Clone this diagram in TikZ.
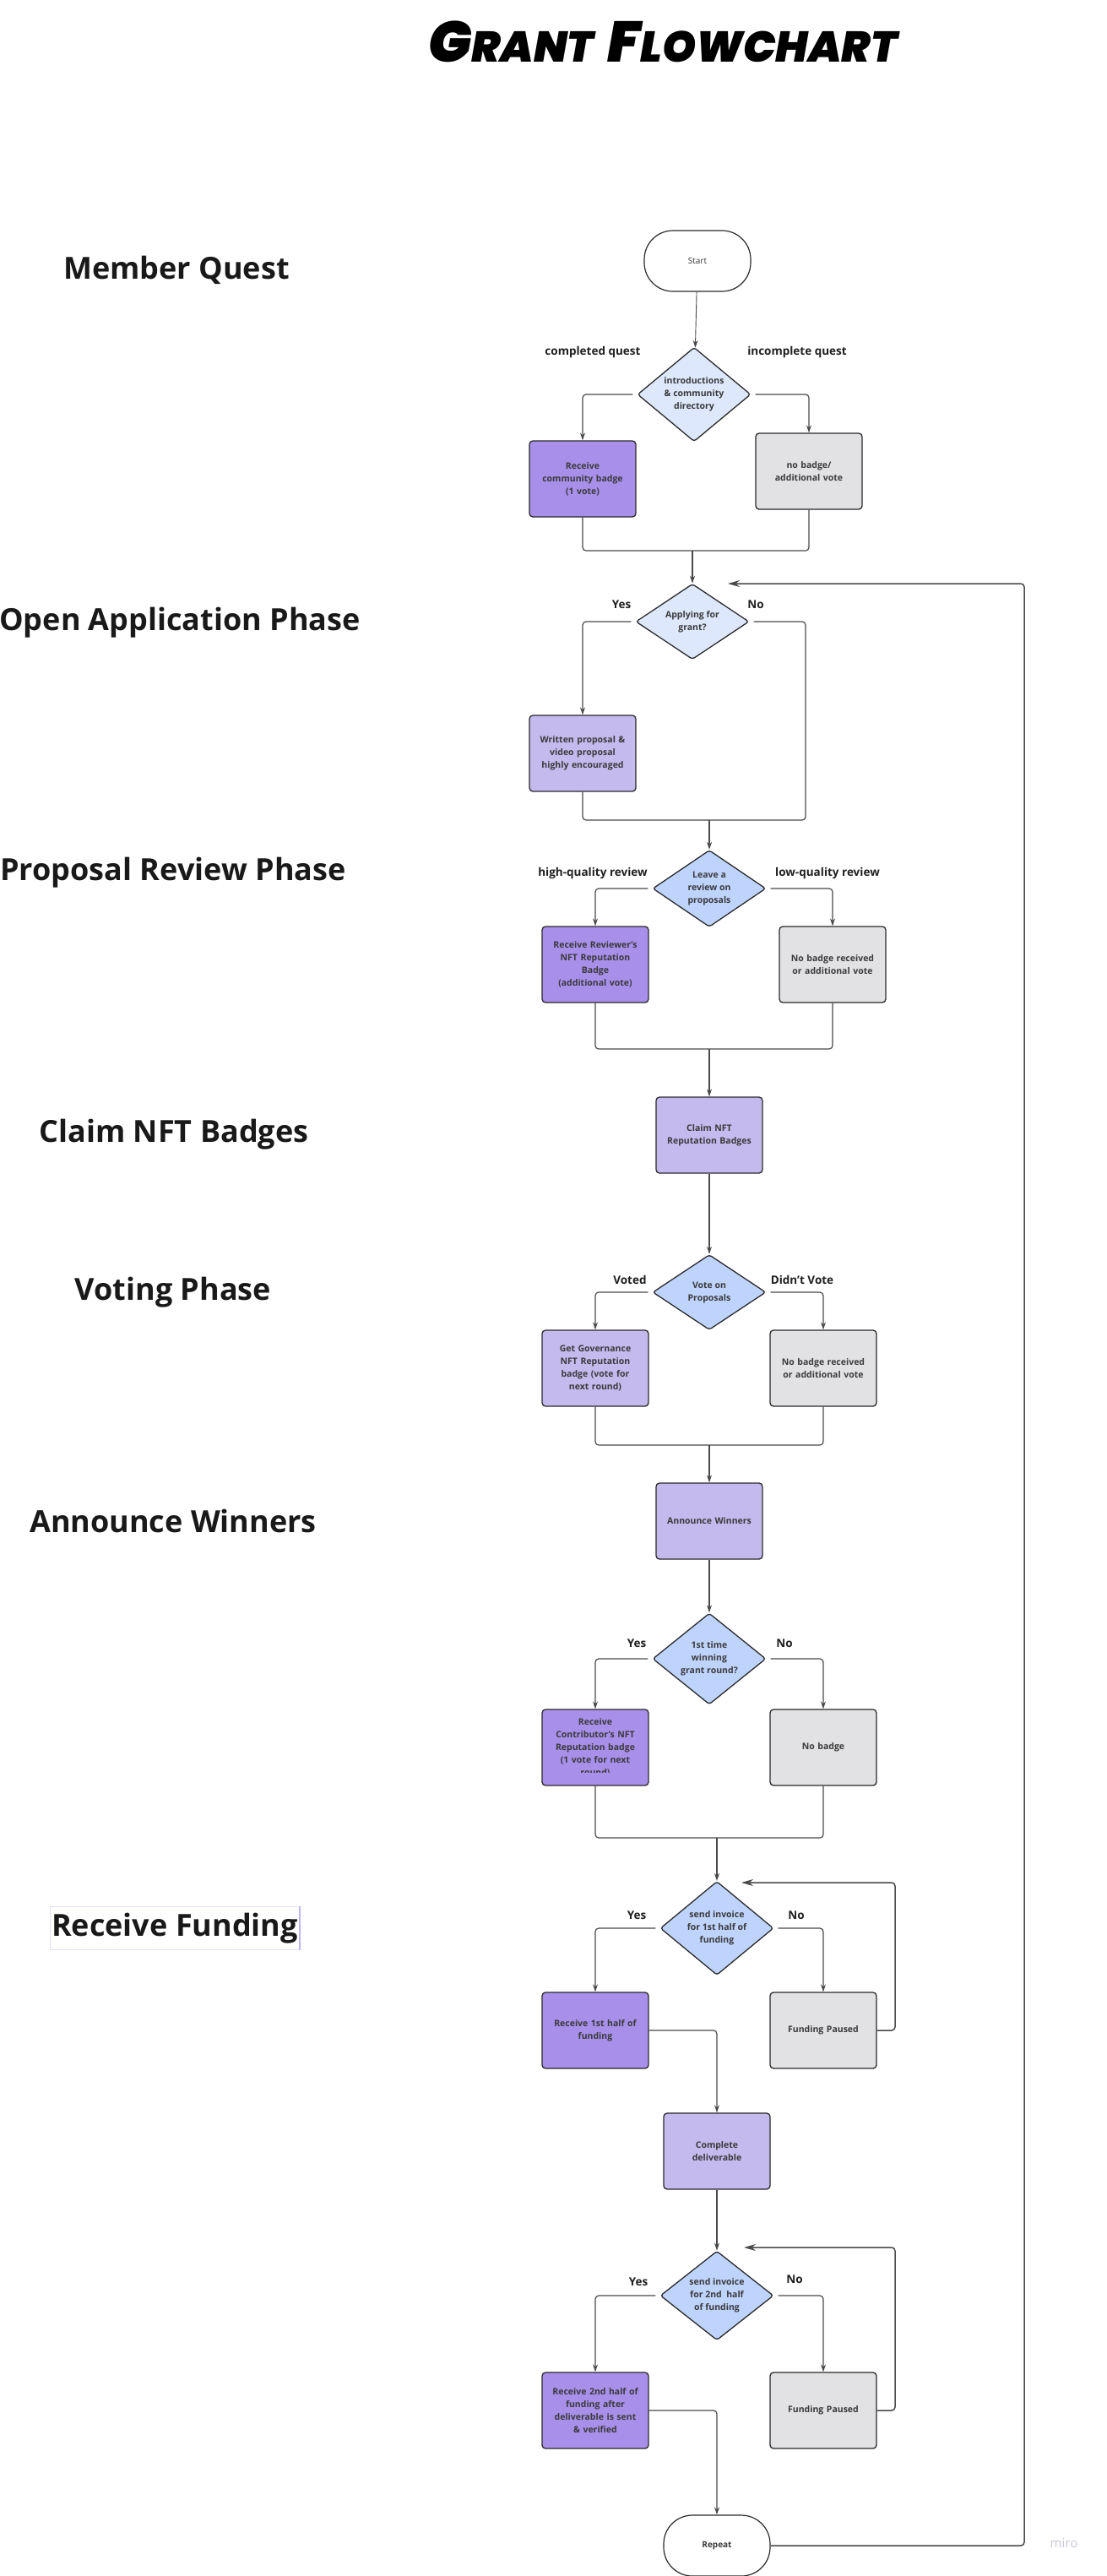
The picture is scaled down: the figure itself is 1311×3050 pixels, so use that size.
\documentclass[tikz,border=0pt]{standalone}
\usepackage{fontspec}
\setmainfont{Open Sans}
\newfontfamily\brushfont{Poppins}[UprightFont=*-Black, ItalicFont=*-BlackItalic]
\usetikzlibrary{shapes.geometric,arrows.meta}
\definecolor{violetdeep}{HTML}{A88FEA}
\definecolor{violetsoft}{HTML}{C5BAEE}
\definecolor{greyfill}{HTML}{E2E2E4}
\definecolor{paleblue}{HTML}{DDE8FC}
\definecolor{queryblue}{HTML}{BFD4FD}
\definecolor{edgeink}{HTML}{2B2B2B}
\definecolor{wire}{HTML}{4A4A4A}
\definecolor{boxink}{HTML}{3A3A3A}
\definecolor{lilac}{HTML}{E4DFFA}
\definecolor{lilacdark}{HTML}{C0B4F6}
\definecolor{markgrey}{HTML}{C9C9DB}
\tikzset{
        card/.style={draw=edgeink, line width=1.3pt, rounded corners=4pt, minimum width=126pt, minimum height=90pt, text width=114pt, align=center, text=boxink, font=\fontsize{10.5}{15}\selectfont\bfseries},
        darkbox/.style={card, fill=violetdeep},
        lightbox/.style={card, fill=violetsoft},
        greybox/.style={card, fill=greyfill},
        query/.style={diamond, draw=edgeink, line width=1.3pt, rounded corners=3pt, minimum width=134pt, minimum height=89pt, inner sep=0pt, align=center, text=boxink, font=\fontsize{10.5}{15}\selectfont\bfseries},
        terminal/.style={draw=edgeink, line width=1.2pt, fill=white, rounded corners=34pt, minimum width=126pt, minimum height=72pt, text=boxink},
        link/.style={draw=wire, line width=1.2pt, rounded corners=4pt},
        arrow/.style={link, -{Stealth[length=9pt,width=6pt]}},
        loopback/.style={link, line width=1.5pt, -{Stealth[length=14pt,width=8pt]}},
        tag/.style={font=\fontsize{13.5}{16}\selectfont\bfseries, text=black!88},
        phase/.style={font=\fontsize{36}{40}\selectfont\bfseries, text=black!90}
}
\begin{document}
\begin{tikzpicture}[x=1pt, y=-1pt]
        \useasboundingbox[fill=white] (0,0) rectangle (1311,3050);
        \node (title) at (785,49) {\brushfont\itshape\fontsize{68}{68}\selectfont G\fontsize{51}{51}\selectfont RANT\hspace{16pt}\fontsize{68}{68}\selectfont F\fontsize{51}{51}\selectfont LOWCHART};
        \node[phase] (ph1) at (209,320) {Member Quest};
        \node[phase] (ph2) at (213,737) {Open Application Phase};
        \node[phase] (ph3) at (205,1033) {Proposal Review Phase};
        \node[phase] (ph4) at (206,1343) {Claim NFT Badges};
        \node[phase] (ph5) at (205,1530) {Voting Phase};
        \node[phase] (ph6) at (205,1801) {Announce Winners};
        \node[phase, draw=lilac, line width=0.8pt, inner sep=1.5pt, minimum height=51pt] (ph7) at (207,2283) {Receive Funding};
        \draw[lilacdark, line width=1.6pt] (ph7.north east) -- (ph7.south east);

        \node[terminal, font=\fontsize{10}{12}\selectfont] (start) at (826,309) {Start};
        \node[query, fill=paleblue] (intro) at (822,467) {introductions\\\& community\\directory};
        \node[darkbox] (badge) at (690,567) {Receive\\community badge\\(1 vote)};
        \node[greybox] (nobadge) at (958,558) {no badge/\\additional vote};
        \node[query, fill=paleblue] (apply) at (820,736) {Applying for\\grant?};
        \node[lightbox] (written) at (690,892) {Written proposal \&\\video proposal\\highly encouraged};
        \node[query, fill=queryblue] (review) at (840,1052) {Leave a\\review on\\proposals};
        \node[darkbox] (reviewer) at (705,1142) {Receive Reviewer's\\NFT Reputation\\Badge\\(additional vote)};
        \node[greybox] (noreview) at (986,1142) {No badge received\\or additional vote};
        \node[lightbox] (claim) at (840,1344) {Claim NFT\\Reputation Badges};
        \node[query, fill=queryblue] (vote) at (840,1530) {Vote on\\Proposals};
        \node[lightbox] (govern) at (705,1620) {Get Governance\\NFT Reputation\\badge (vote for\\next round)};
        \node[greybox] (novote) at (975,1620) {No badge received\\or additional vote};
        \node[lightbox] (announce) at (840,1801) {Announce Winners};
        \node[query, fill=queryblue] (first) at (840,1964) {1st time\\winning\\grant round?};
        \node[darkbox] (contrib) at (705,2069) {};
        \begin{scope}
        \clip ([yshift=16pt]contrib.south west) rectangle (contrib.north east);
        \node[card, draw=none] (contribtext) at (contrib.center) {Receive\\Contributor's NFT\\Reputation badge\\(1 vote for next\\round)};
        \end{scope}
        \node[greybox] (nowin) at (975,2069) {No badge};
        \node[query, fill=queryblue] (invoice1) at (849,2283) {send invoice\\for 1st half of\\funding};
        \node[darkbox] (half1) at (705,2404) {Receive 1st half of\\funding};
        \node[greybox] (pause1) at (975,2404) {Funding Paused};
        \node[lightbox] (deliver) at (849,2547) {Complete\\deliverable};
        \node[query, fill=queryblue] (invoice2) at (849,2718) {send invoice\\for 2nd\ \ half\\of funding};
        \node[darkbox] (half2) at (705,2854) {Receive 2nd half of\\funding after\\deliverable is sent\\\& verified};
        \node[greybox] (pause2) at (975,2854) {Funding Paused};
        \node[terminal, font=\fontsize{10}{12}\selectfont\bfseries] (repeat) at (849,3014) {Repeat};

        \node[tag] (t1) at (702,417) {completed quest};
        \node[tag] (t2) at (944,417) {incomplete quest};
        \node[tag] (t3) at (736,716) {Yes};
        \node[tag] (t4) at (895,716) {No};
        \node[tag] (t5) at (702,1034) {high-quality review};
        \node[tag] (t6) at (980,1034) {low-quality review};
        \node[tag] (t7) at (746,1515) {Voted};
        \node[tag] (t8) at (950,1515) {Didn't Vote};
        \node[tag] (t9) at (754,1946) {Yes};
        \node[tag] (t10) at (929,1946) {No};
        \node[tag] (t11) at (754,2268) {Yes};
        \node[tag] (t12) at (943,2268) {No};
        \node[tag] (t13) at (756,2702) {Yes};
        \node[tag] (t14) at (941,2699) {No};
        \node[font=\fontsize{15}{15}\selectfont, text=markgrey] (mark) at (1260,3011) {miro};

        \coordinate (m1) at (820,652);
        \coordinate (m2) at (840,971);
        \coordinate (noapply) at (954,971);
        \coordinate (m3) at (840,1242);
        \coordinate (m4) at (840,1711);
        \coordinate (m5) at (849,2176);
        \coordinate (r1) at (1060,2229);
        \coordinate (back1) at (878,2229);
        \coordinate (r2) at (1060,2661);
        \coordinate (back2) at (881,2661);
        \coordinate (r3) at (1213,691);
        \coordinate (back0) at (862,691);

        \draw[arrow, line width=0.9pt] (start) -- (intro);
        \draw[arrow, shorten <=5pt] (intro.west) -| (badge.north);
        \draw[arrow, shorten <=5pt] (intro.east) -| (nobadge.north);
        \draw[link] (badge.south) |- (m1);
        \draw[link] (nobadge.south) |- (m1);
        \draw[arrow] (m1) -- (apply.north);
        \draw[arrow, shorten <=5pt] (apply.west) -| (written.north);
        \draw[link, shorten <=5pt] (apply.east) -| (noapply) -- (m2);
        \draw[link] (written.south) |- (m2);
        \draw[arrow] (m2) -- (review.north);
        \draw[arrow, shorten <=5pt] (review.west) -| (reviewer.north);
        \draw[arrow, shorten <=5pt] (review.east) -| (noreview.north);
        \draw[link] (reviewer.south) |- (m3);
        \draw[link] (noreview.south) |- (m3);
        \draw[arrow] (m3) -- (claim.north);
        \draw[arrow] (claim.south) -- (vote.north);
        \draw[arrow, shorten <=5pt] (vote.west) -| (govern.north);
        \draw[arrow, shorten <=5pt] (vote.east) -| (novote.north);
        \draw[link] (govern.south) |- (m4);
        \draw[link] (novote.south) |- (m4);
        \draw[arrow] (m4) -- (announce.north);
        \draw[arrow] (announce.south) -- (first.north);
        \draw[arrow, shorten <=5pt] (first.west) -| (contrib.north);
        \draw[arrow, shorten <=5pt] (first.east) -| (nowin.north);
        \draw[link] (contrib.south) |- (m5);
        \draw[link] (nowin.south) |- (m5);
        \draw[arrow] (m5) -- (invoice1.north);
        \draw[arrow, shorten <=5pt] (invoice1.west) -| (half1.north);
        \draw[arrow, shorten <=5pt] (invoice1.east) -| (pause1.north);
        \draw[arrow] (half1.east) -| (deliver.north);
        \draw[loopback] (pause1.east) -| (r1) -- (back1);
        \draw[arrow] (deliver.south) -- (invoice2.north);
        \draw[arrow, shorten <=5pt] (invoice2.west) -| (half2.north);
        \draw[arrow, shorten <=5pt] (invoice2.east) -| (pause2.north);
        \draw[arrow] (half2.east) -| (repeat.north);
        \draw[loopback] (pause2.east) -| (r2) -- (back2);
        \draw[loopback] (repeat.east) -| (r3) -- (back0);
\end{tikzpicture}
\end{document}
